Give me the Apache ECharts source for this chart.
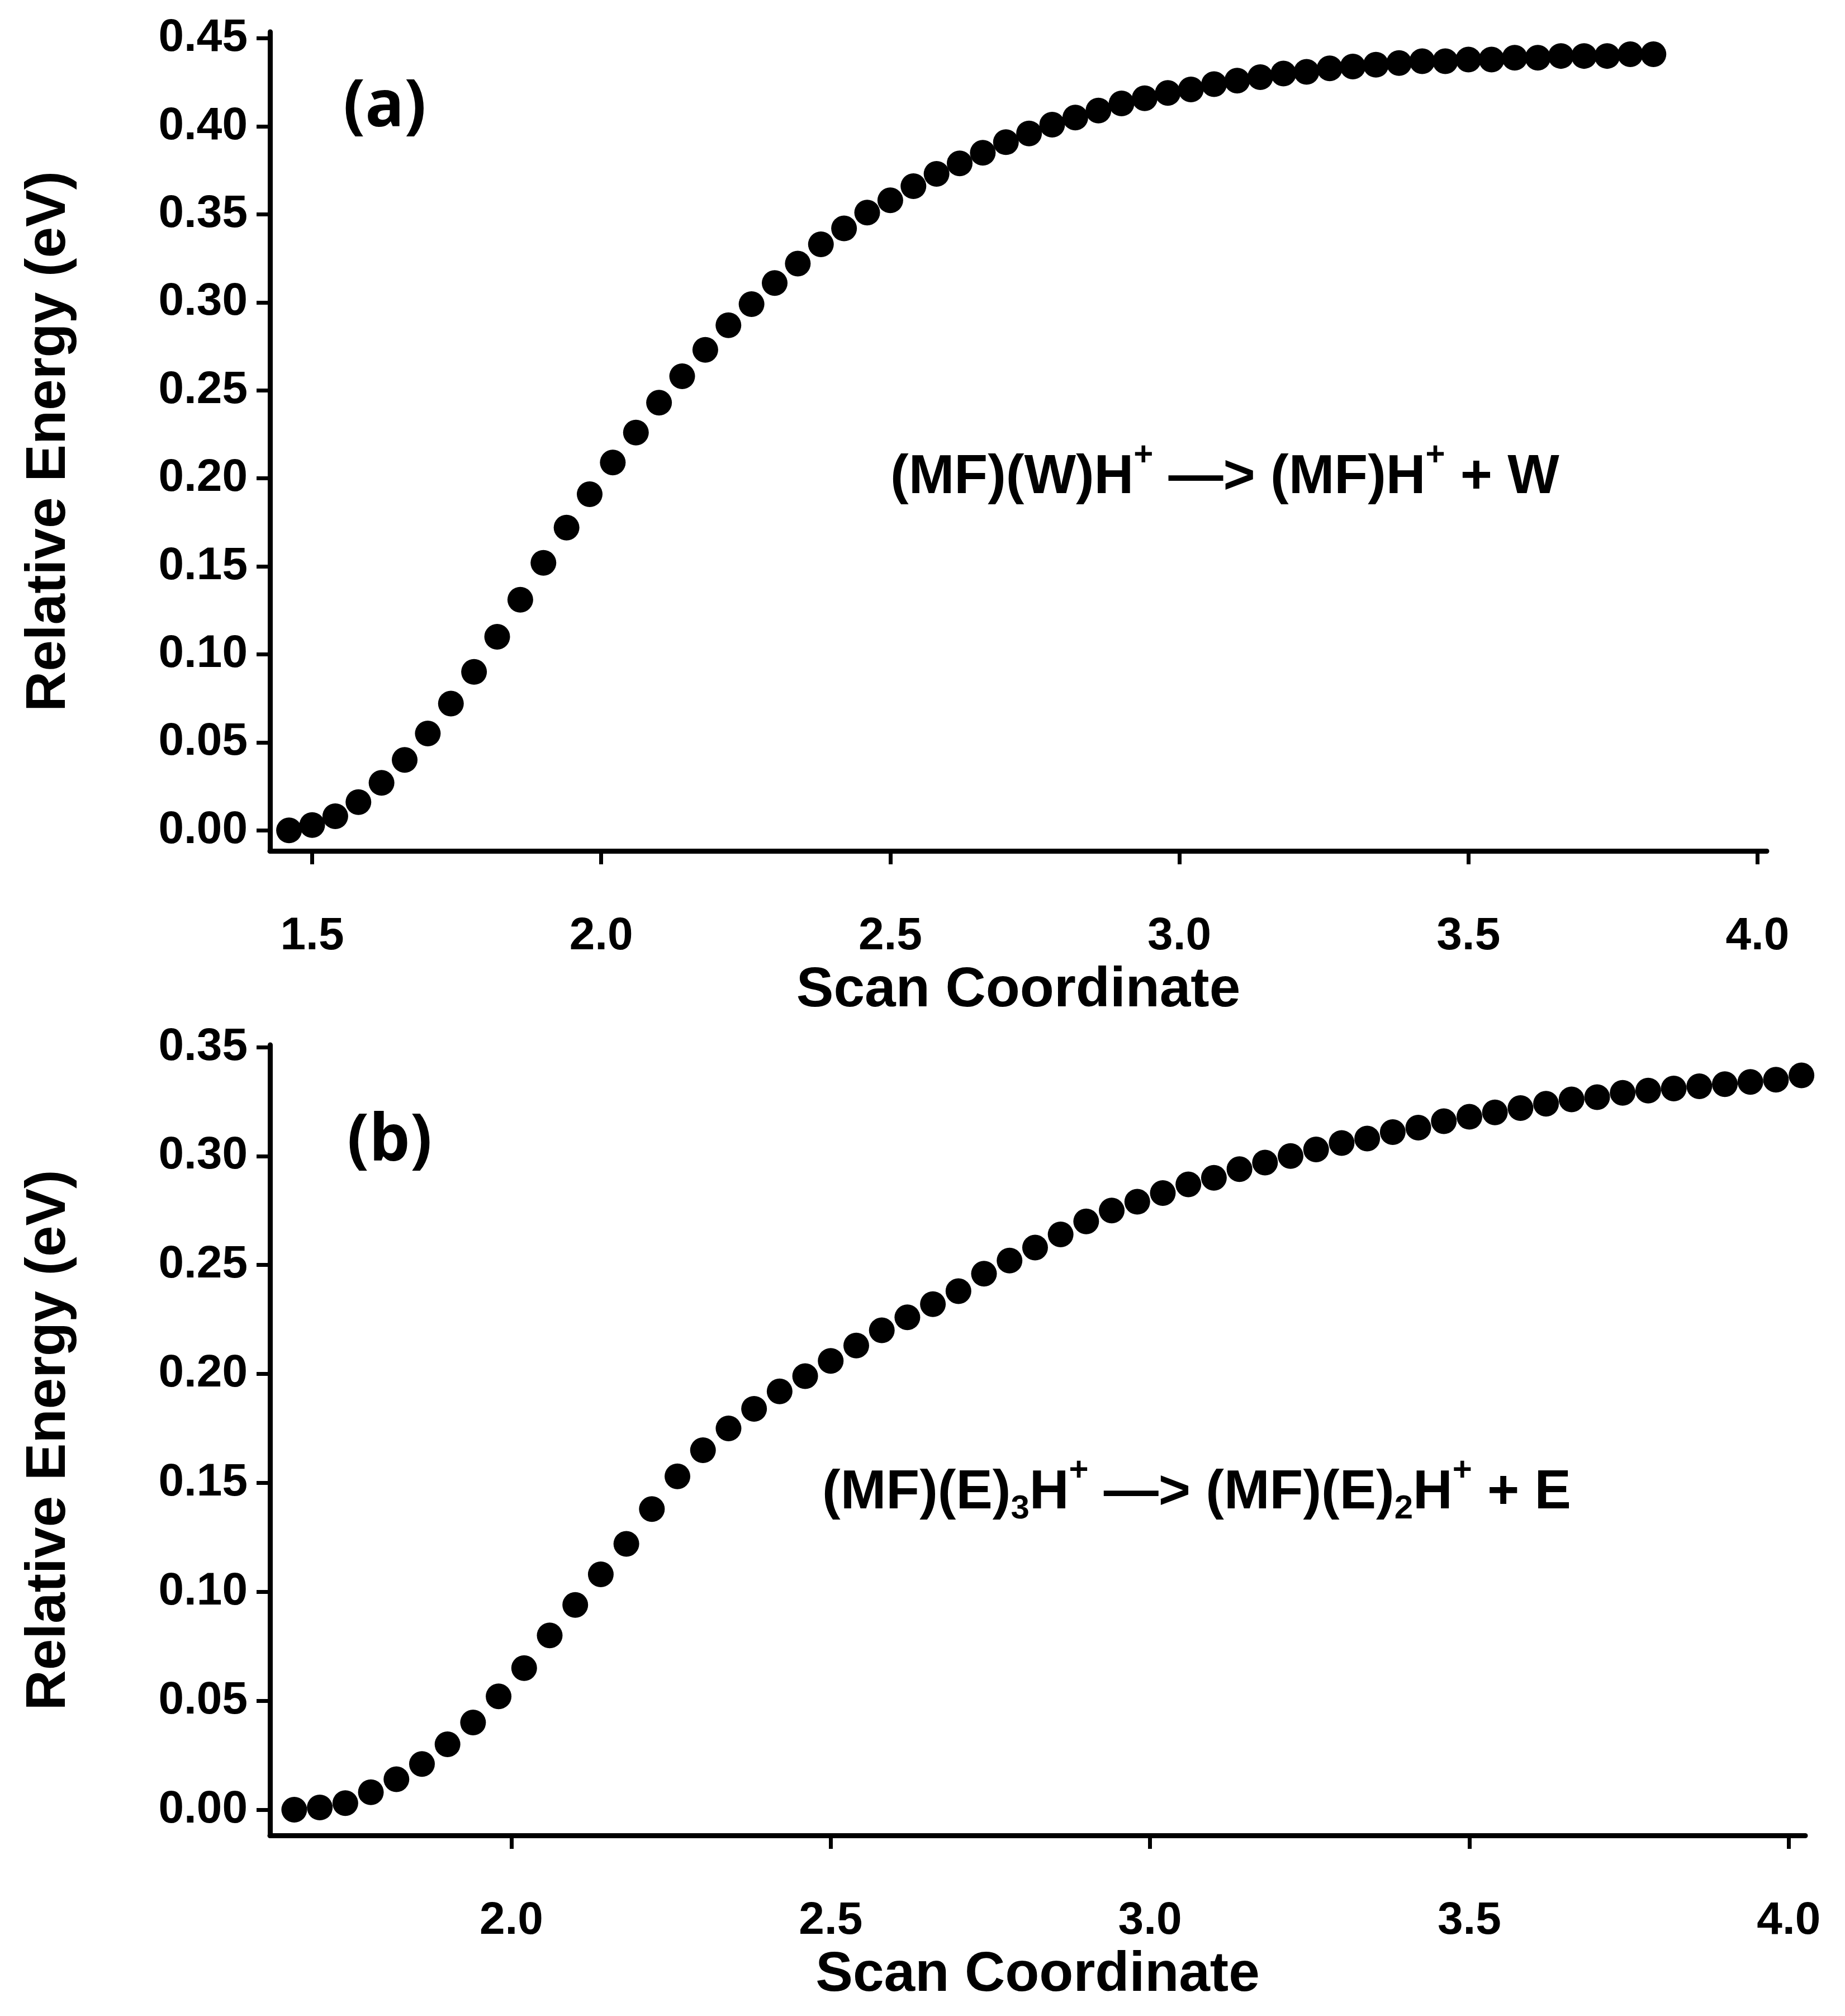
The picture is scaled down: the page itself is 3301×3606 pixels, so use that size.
<!DOCTYPE html>
<html><head><meta charset="utf-8">
<script src="https://cdn.jsdelivr.net/npm/echarts@6/dist/echarts.min.js"></script>
<style>html,body{margin:0;padding:0;background:#fff}#c{width:3301px;height:3606px}</style>
</head><body><div id="c"></div>
<script>
const xA = [1.46,1.50,1.54,1.58,1.62,1.66,1.70,1.74,1.78,1.82,1.86,1.90,1.94,1.98,2.02,2.06,2.10,2.14,2.18,2.22,2.26,2.30,2.34,2.38,2.42,2.46,2.50,2.54,2.58,2.62,2.66,2.70,2.74,2.78,2.82,2.86,2.90,2.94,2.98,3.02,3.06,3.10,3.14,3.18,3.22,3.26,3.30,3.34,3.38,3.42,3.46,3.50,3.54,3.58,3.62,3.66,3.70,3.74,3.78,3.82];
const yA = [0.000,0.003,0.008,0.016,0.027,0.040,0.055,0.072,0.090,0.110,0.131,0.152,0.172,0.191,0.209,0.226,0.243,0.258,0.273,0.287,0.299,0.311,0.322,0.333,0.342,0.351,0.358,0.366,0.373,0.379,0.385,0.391,0.396,0.401,0.405,0.409,0.413,0.416,0.419,0.421,0.424,0.426,0.428,0.430,0.431,0.433,0.434,0.435,0.436,0.437,0.437,0.438,0.438,0.439,0.439,0.440,0.440,0.440,0.441,0.441];
const xB = [1.66,1.70,1.74,1.78,1.82,1.86,1.90,1.94,1.98,2.02,2.06,2.10,2.14,2.18,2.22,2.26,2.30,2.34,2.38,2.42,2.46,2.50,2.54,2.58,2.62,2.66,2.70,2.74,2.78,2.82,2.86,2.90,2.94,2.98,3.02,3.06,3.10,3.14,3.18,3.22,3.26,3.30,3.34,3.38,3.42,3.46,3.50,3.54,3.58,3.62,3.66,3.70,3.74,3.78,3.82,3.86,3.90,3.94,3.98,4.02];
const yB = [0.000,0.001,0.003,0.008,0.014,0.021,0.030,0.040,0.052,0.065,0.080,0.094,0.108,0.122,0.138,0.153,0.165,0.175,0.184,0.192,0.199,0.206,0.213,0.220,0.226,0.232,0.238,0.246,0.252,0.258,0.264,0.270,0.275,0.279,0.283,0.287,0.290,0.294,0.297,0.300,0.303,0.306,0.308,0.311,0.313,0.316,0.318,0.320,0.322,0.324,0.326,0.327,0.329,0.330,0.331,0.332,0.333,0.334,0.335,0.337];
const xTicksA = [1.5,2.0,2.5,3.0,3.5,4.0];
const xTicksB = [2.0,2.5,3.0,3.5,4.0];
const yTicksA = [0,0.05,0.10,0.15,0.20,0.25,0.30,0.35,0.40,0.45];
const yTicksB = [0,0.05,0.10,0.15,0.20,0.25,0.30,0.35];
const reactA = [['(MF)(W)H','n'],['+','sup'],[' —> (MF)H','n'],['+','sup'],[' + W','n']];
const reactB = [['(MF)(E)','n'],['3','sub'],['H','n'],['+','sup'],[' —> (MF)(E)','n'],['2','sub'],['H','n'],['+','sup'],[' + E','n']];

const F = 'Liberation Sans';
const lbl = {fontFamily:F,fontWeight:'bold',fontSize:82,color:'#000'};
function xAx(idx,min,max,ticks){return {gridIndex:idx,type:'value',min:min,max:max,
  name:'Scan Coordinate',nameLocation:'middle',nameGap:200,
  nameTextStyle:{fontFamily:F,fontWeight:'bold',fontSize:100,color:'#000',verticalAlign:'top'},
  axisLine:{show:true,onZero:false,lineStyle:{color:'#000',width:9}},
  axisTick:{show:true,inside:false,length:24,lineStyle:{width:7,color:'#000'},customValues:ticks},
  axisLabel:Object.assign({margin:112,formatter:v=>v.toFixed(1),customValues:ticks},lbl),
  splitLine:{show:false}};}
function yAx(idx,min,max,ticks){return {gridIndex:idx,type:'value',min:min,max:max,
  name:'Relative Energy (eV)',nameLocation:'middle',nameGap:345,nameRotate:90,
  nameTextStyle:{fontFamily:F,fontWeight:'bold',fontSize:100,color:'#000'},
  axisLine:{show:true,onZero:false,lineStyle:{color:'#000',width:9}},
  axisTick:{show:true,inside:false,length:24,lineStyle:{width:7,color:'#000'},customValues:ticks},
  axisLabel:Object.assign({margin:40,formatter:v=>v.toFixed(2),customValues:ticks},lbl),
  splitLine:{show:false}};}
const ctx = document.createElement('canvas').getContext('2d');
function pieces(parts,x0,yc){
  const out=[]; let x=x0;
  parts.forEach(([t,k])=>{
    const fs = k==='n'?98:60; const dy = k==='sup'?-40:(k==='sub'?28:0);
    const font='bold '+fs+'px "'+F+'"'; ctx.font=font;
    out.push({type:'text',x:x,y:yc+dy,style:{text:t,fontFamily:F,fontWeight:'bold',fontSize:fs,fill:'#000',textVerticalAlign:'middle',verticalAlign:'middle'}});
    x += ctx.measureText(t).width;
  });
  return out;
}
const chart = echarts.init(document.getElementById('c'),null,{renderer:'canvas'});
chart.setOption({
  backgroundColor:'#fff',animation:false,
  grid:[{left:483,top:57,right:140,height:1465},{left:483,top:1869,right:71,height:1414}],
  xAxis:[xAx(0,1.427,4.016,xTicksA),xAx(1,1.622,4.026,xTicksB)],
  yAxis:[yAx(0,-0.0117,0.4537,yTicksA),yAx(1,-0.0118,0.351,yTicksB)],
  series:[
    {type:'scatter',xAxisIndex:0,yAxisIndex:0,symbolSize:46,itemStyle:{color:'#000',opacity:1},data:xA.map((x,i)=>[x,yA[i]])},
    {type:'scatter',xAxisIndex:1,yAxisIndex:1,symbolSize:46,itemStyle:{color:'#000',opacity:1},data:xB.map((x,i)=>[x,yB[i]])}
  ],
  graphic:[
    {type:'text',left:614,top:135,style:{text:'(a)',fontFamily:'Open Sans',fontWeight:'bold',fontSize:116,fill:'#000'}},
    {type:'text',left:621,top:1985,style:{text:'(b)',fontFamily:'Open Sans',fontWeight:'bold',fontSize:116,fill:'#000'}}
  ].concat(pieces(reactA,1593,855)).concat(pieces(reactB,1471,2671))
});
</script></body></html>
